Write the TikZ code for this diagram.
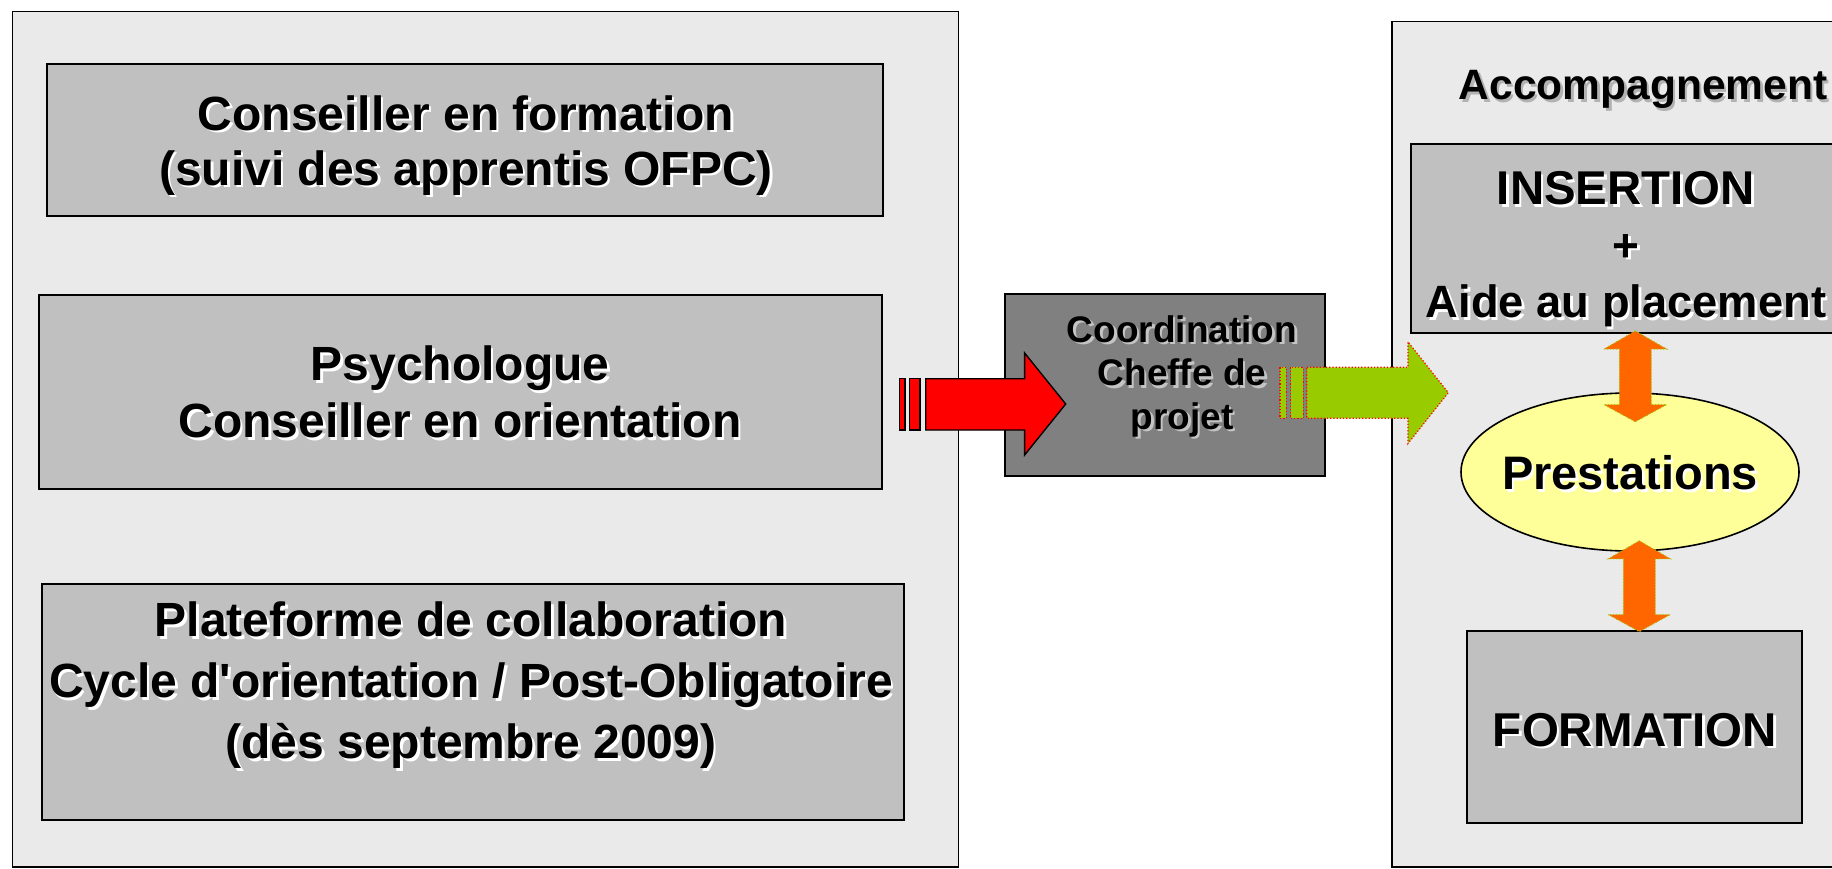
\documentclass[tikz,border=0pt]{standalone}
\usepackage{fontspec}
\setmainfont{Liberation Sans}[Ligatures=TeXOff]
\usetikzlibrary{shapes.geometric}
\definecolor{panelgray}{HTML}{EAEAEA}
\definecolor{boxgray}{HTML}{C0C0C0}
\definecolor{darkbox}{HTML}{808080}
\definecolor{paleyellow}{HTML}{FFFF99}
\definecolor{arrowgreen}{HTML}{99CC00}
\definecolor{arroworange}{HTML}{FF6600}
\definecolor{shadowgray}{HTML}{B2B2B2}
\definecolor{shadowlight}{HTML}{C4C4C4}
\newcommand{\shd}[2][white]{\leavevmode\rlap{\kern2.5pt\raisebox{-2.5pt}{\textcolor{#1}{#2}}}#2}
\begin{document}
\begin{tikzpicture}[x=1pt,y=-1pt,
  panel/.style={draw=black, line width=1.6pt, fill=panelgray, inner sep=0pt},
  graybox/.style={draw=black, line width=1.6pt, fill=boxgray, inner sep=0pt},
  lbl/.style={inner sep=0pt, align=center},
  redarrow/.style={fill=red, draw=black, line width=1.4pt, line join=miter},
  greenarrow/.style={fill=arrowgreen, draw=red, line width=1.2pt, dotted},
  orangearrow/.style={fill=arroworange, draw=arrowgreen, line width=1pt, dotted}
]
\useasboundingbox (0,0) rectangle (1832,869);
\clip (0,0) rectangle (1832,869);
\fill[white] (0,0) rectangle (1832,869);

% panels and boxes
\node[panel, minimum width=946pt, minimum height=855pt] (leftpanel) at (485.5,439.2) {};
\node[graybox, minimum width=836pt, minimum height=152pt] (conseiller) at (465,140) {};
\node[graybox, minimum width=843pt, minimum height=194pt] (psycho) at (460.5,391.8) {};
\node[graybox, minimum width=862pt, minimum height=236pt] (plateforme) at (473,702) {};
\node[draw=black, line width=1.6pt, fill=darkbox, inner sep=0pt, minimum width=320pt, minimum height=182pt] (coord) at (1165,385) {};
\node[panel, minimum width=458pt, minimum height=845pt] (rightpanel) at (1620.8,444.2) {};
\node[graybox, minimum width=439pt, minimum height=189pt] (insertion) at (1630.5,238.5) {};
\node[graybox, minimum width=335pt, minimum height=192pt] (formation) at (1634.5,726.8) {};
\node[ellipse, draw=black, line width=1.6pt, fill=paleyellow, inner sep=0pt, minimum width=338pt, minimum height=158pt] (prestations) at (1630,472) {};

% block arrows
\draw[redarrow] (925.7,378.7) -- (1024.6,378.7) -- (1024.6,353) -- (1065.7,404) -- (1024.6,455) -- (1024.6,430) -- (925.7,430) -- cycle;
\draw[redarrow] (899.6,378.7) rectangle (905,430);
\draw[redarrow] (909.6,378.7) rectangle (920,430);

\draw[greenarrow] (1306.8,367.3) -- (1407.9,367.3) -- (1407.9,341.8) -- (1448.3,392.7) -- (1407.9,443.6) -- (1407.9,418.3) -- (1306.8,418.3) -- cycle;
\draw[greenarrow] (1280,367.3) rectangle (1286.4,418.3);
\draw[greenarrow] (1290.7,367.3) rectangle (1303.2,418.3);

\draw[orangearrow] (1635.3,330.9) -- (1666.6,349) -- (1651.3,349) -- (1651.3,404.7) -- (1666.6,404.7) -- (1635.3,421.8) -- (1604,404.7) -- (1619.3,404.7) -- (1619.3,349) -- (1604,349) -- cycle;
\draw[orangearrow] (1639.3,540.7) -- (1670.5,558.9) -- (1655.3,558.9) -- (1655.3,614.5) -- (1670.5,614.5) -- (1639.3,631.6) -- (1608.1,614.5) -- (1623.3,614.5) -- (1623.3,558.9) -- (1608.1,558.9) -- cycle;

% texts
\node[lbl, font=\bfseries\fontsize{48}{55}\selectfont] (conseillertext) at (466,146.5)
  {\shd{Conseiller en formation}\\\shd{(suivi des apprentis OFPC)}};
\node[lbl, font=\bfseries\fontsize{48}{57}\selectfont] (psychotext) at (460,393.3)
  {\shd{Psychologue}\\\shd{Conseiller en orientation}};
\node[lbl, font=\bfseries\fontsize{48}{61}\selectfont] (plateformetext) at (471,686.4)
  {\shd{Plateforme de collaboration}\\\shd{Cycle d'orientation / Post-Obligatoire}\\\shd{(dès septembre 2009)}};
\node[lbl, font=\bfseries\fontsize{37}{43.5}\selectfont] (coordtext) at (1182,377.5)
  {\shd[shadowlight]{Coordination}\\\shd[shadowlight]{Cheffe de}\\\shd[shadowlight]{projet}};
\node[lbl, anchor=base, font=\bfseries\fontsize{42.5}{50}\selectfont] (accomp) at (1643,100)
  {\shd[shadowgray]{Accompagnement}};
\node[lbl, font=\bfseries\fontsize{46}{56.5}\selectfont] (insertiontext) at (1626,250.5)
  {\shd{{\fontsize{47.4}{56.5}\selectfont INSERTION}}\\\shd{+}\\\shd{{\fontsize{45.3}{56.5}\selectfont Aide au placement}}};
\node[lbl, anchor=base, font=\bfseries\fontsize{47}{55}\selectfont] (prestationstext) at (1630,489.8)
  {\shd{Prestations}};
\node[lbl, anchor=base, font=\bfseries\fontsize{47.5}{55}\selectfont] (formationtext) at (1635,746)
  {\shd{FORMATION}};
\end{tikzpicture}
\end{document}
